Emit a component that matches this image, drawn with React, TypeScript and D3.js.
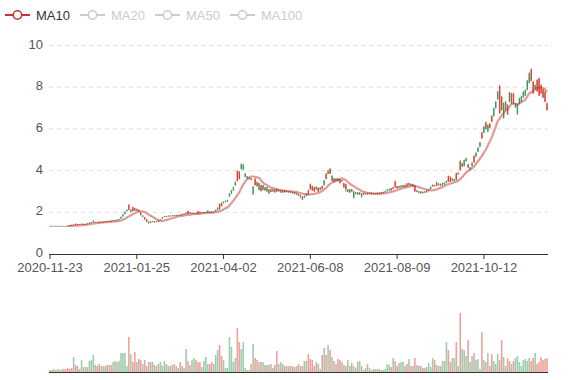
import React from 'react';
import * as d3 from 'd3';

const W = 577;
const H = 380;

// ---- data ----
const tickLabels = ['2020-11-23', '2021-01-25', '2021-04-02', '2021-06-08', '2021-08-09', '2021-10-12'];
const tickStep = 44;
const legendNames = ['MA10', 'MA20', 'MA50', 'MA100'];
const legendActive = [true, false, false, false];
const yTicks = [0, 2, 4, 6, 8, 10];

const opens = [
  1.34,1.35,1.34,1.35,1.34,1.35,1.34,1.34,1.345,1.35,
  1.38,1.40,1.39,1.44,1.43,1.41,1.42,1.44,1.43,1.46,
  1.46,1.49,1.52,1.53,1.54,1.55,1.53,1.54,1.56,1.57,
  1.56,1.60,1.59,1.60,1.64,1.64,1.70,1.80,1.92,2.05,
  2.35,2.03,2.24,2.20,2.08,2.12,2.00,1.78,1.76,1.66,
  1.48,1.56,1.53,1.57,1.55,1.62,1.63,1.70,1.78,1.82,
  1.80,1.84,1.82,1.86,1.84,1.84,1.88,1.92,1.90,1.92,
  2.06,2.00,1.93,1.92,1.96,2.05,2.02,1.96,1.95,1.97,
  1.98,2.02,2.03,2.00,2.05,2.12,2.40,2.45,2.44,2.50,
  2.52,2.75,2.90,3.05,3.30,3.98,3.95,4.08,4.06,3.70,
  3.62,3.60,3.62,2.88,3.60,3.45,3.08,3.30,3.08,3.20,
  3.00,2.92,3.10,3.00,3.08,3.12,3.00,2.95,3.05,3.04,
  2.98,3.02,2.94,2.98,2.96,2.85,2.88,2.72,2.75,2.70,
  2.80,3.05,3.35,3.25,3.20,3.10,3.18,3.08,3.25,3.30,
  3.85,3.85,4.08,3.50,3.62,3.50,3.62,3.58,3.48,3.40,
  3.35,2.98,2.95,3.10,2.70,2.88,2.95,2.85,2.75,2.92,
  2.87,2.92,2.88,2.93,2.88,2.87,2.93,2.88,2.95,2.92,
  2.96,3.02,3.06,3.15,3.12,3.48,3.25,3.18,3.20,3.22,
  3.30,3.38,3.30,3.36,3.25,3.30,2.98,3.00,2.92,2.98,
  2.95,3.05,3.04,3.12,3.25,3.30,3.44,3.30,3.36,3.30,
  3.34,3.42,3.74,3.70,3.52,3.50,3.87,3.82,4.46,4.19,
  4.22,4.45,4.30,4.03,4.22,4.70,4.68,4.90,5.15,5.82,
  5.82,6.31,5.88,6.25,6.62,6.62,7.00,7.42,8.06,7.54,
  6.52,6.92,7.15,7.74,7.22,7.70,7.02,6.70,7.20,7.30,
  7.50,7.60,7.87,8.20,8.86,8.26,7.90,8.35,8.43,8.10,
  7.90,7.78,7.23,
];

const closes = [
  1.35,1.34,1.35,1.34,1.345,1.34,1.35,1.335,1.335,1.34,
  1.35,1.38,1.42,1.39,1.41,1.43,1.45,1.42,1.44,1.43,
  1.50,1.53,1.60,1.50,1.51,1.52,1.55,1.55,1.53,1.54,
  1.58,1.56,1.62,1.63,1.60,1.68,1.78,1.90,2.02,2.12,
  2.12,2.12,2.06,2.08,2.16,2.05,1.87,1.85,1.66,1.55,
  1.55,1.50,1.58,1.52,1.57,1.55,1.66,1.76,1.82,1.78,
  1.84,1.80,1.85,1.82,1.88,1.87,1.84,1.86,1.93,1.98,
  1.92,1.95,1.98,1.96,1.92,1.93,1.95,2.00,1.99,2.02,
  2.08,1.97,1.98,2.04,2.12,2.22,2.15,2.30,2.50,2.55,
  2.58,2.90,3.05,3.20,3.45,3.50,3.60,4.30,4.28,3.85,
  3.72,3.68,3.55,3.23,3.30,3.25,3.40,3.02,3.30,3.05,
  3.20,3.10,2.98,3.10,2.96,3.00,3.08,3.05,2.95,2.96,
  3.04,2.96,3.00,2.92,2.88,2.92,2.80,2.82,2.62,2.78,
  2.90,2.85,3.10,3.05,3.00,3.22,3.00,3.18,3.12,3.52,
  3.60,4.00,3.85,3.75,3.45,3.62,3.50,3.40,3.55,3.20,
  3.10,3.10,3.10,3.00,3.00,2.95,2.86,2.95,2.90,2.85,
  2.92,2.86,2.92,2.87,2.92,2.91,2.87,2.93,2.88,2.97,
  3.02,3.08,3.12,3.05,3.20,3.20,3.15,3.25,3.28,3.30,
  3.22,3.25,3.40,3.28,3.35,3.00,3.05,2.94,3.00,2.92,
  3.00,2.96,3.10,3.22,3.32,3.25,3.28,3.38,3.28,3.40,
  3.42,3.50,3.47,3.47,3.62,3.58,3.55,3.90,4.03,4.35,
  4.50,4.59,4.15,4.15,4.38,4.40,4.85,5.10,5.35,5.55,
  6.10,6.00,6.19,6.05,6.35,6.99,7.30,7.78,6.75,6.90,
  7.23,7.30,6.70,7.30,7.70,7.20,7.22,7.20,7.47,7.55,
  7.78,7.87,8.31,8.67,8.30,7.70,8.10,7.80,7.60,7.70,
  7.50,7.30,6.90,
];

const lows = [
  1.33,1.34,1.34,1.34,1.33,1.34,1.34,1.33,1.33,1.34,
  1.34,1.37,1.38,1.38,1.40,1.40,1.41,1.41,1.42,1.42,
  1.45,1.48,1.51,1.49,1.50,1.51,1.52,1.53,1.52,1.53,
  1.55,1.55,1.58,1.59,1.59,1.63,1.69,1.79,1.91,2.04,
  2.10,2.01,2.04,2.06,2.06,2.03,1.85,1.76,1.64,1.53,
  1.44,1.49,1.52,1.51,1.54,1.54,1.62,1.69,1.77,1.77,
  1.79,1.79,1.81,1.81,1.83,1.83,1.83,1.85,1.89,1.91,
  1.91,1.94,1.92,1.91,1.91,1.92,1.94,1.95,1.94,1.96,
  1.97,1.96,1.97,1.99,2.04,2.11,2.14,2.28,2.43,2.49,
  2.51,2.74,2.88,3.03,3.28,3.48,3.58,4.05,4.04,3.68,
  3.60,3.58,3.53,2.83,3.28,3.23,3.05,3.00,3.06,3.03,
  2.98,2.85,2.96,2.98,2.94,2.98,2.98,2.93,2.93,2.94,
  2.96,2.94,2.92,2.90,2.86,2.83,2.78,2.70,2.58,2.68,
  2.78,2.83,3.08,3.03,2.98,3.08,2.98,3.06,3.10,3.28,
  3.58,3.83,3.83,3.48,3.43,3.48,3.48,3.38,3.46,3.18,
  2.98,2.96,2.93,2.98,2.65,2.86,2.84,2.83,2.70,2.83,
  2.85,2.84,2.86,2.85,2.86,2.85,2.85,2.86,2.86,2.90,
  2.94,3.00,3.04,3.03,3.10,3.18,3.13,3.16,3.18,3.20,
  3.20,3.23,3.28,3.26,3.23,2.98,2.96,2.92,2.88,2.90,
  2.93,2.94,3.02,3.10,3.23,3.23,3.26,3.28,3.26,3.28,
  3.32,3.40,3.45,3.45,3.50,3.48,3.53,3.80,4.00,4.17,
  4.20,4.43,4.13,4.01,4.20,4.38,4.66,4.88,5.13,5.53,
  5.80,5.98,5.85,6.03,6.33,6.60,6.98,7.40,6.72,6.88,
  6.48,6.90,6.68,7.28,7.20,7.18,7.00,6.68,7.18,7.28,
  7.48,7.58,7.85,8.18,8.28,7.68,7.88,7.78,7.58,7.68,
  7.48,7.28,6.88,
];

const highs = [
  1.35,1.35,1.35,1.35,1.35,1.35,1.35,1.34,1.35,1.35,
  1.39,1.41,1.43,1.47,1.44,1.44,1.46,1.45,1.45,1.47,
  1.51,1.54,1.62,1.54,1.55,1.56,1.56,1.56,1.57,1.58,
  1.59,1.61,1.63,1.64,1.65,1.69,1.80,1.92,2.04,2.14,
  2.40,2.14,2.26,2.22,2.18,2.14,2.02,1.86,1.78,1.68,
  1.56,1.57,1.59,1.58,1.58,1.63,1.67,1.77,1.83,1.83,
  1.85,1.85,1.86,1.87,1.89,1.88,1.89,1.93,1.94,1.99,
  2.08,2.01,1.99,1.97,1.97,2.07,2.03,2.01,2.00,2.03,
  2.10,2.03,2.04,2.05,2.13,2.24,2.43,2.47,2.52,2.57,
  2.60,2.93,3.08,3.23,3.48,4.02,3.98,4.35,4.32,3.88,
  3.74,3.70,3.64,3.25,3.65,3.47,3.42,3.32,3.32,3.22,
  3.22,3.12,3.12,3.12,3.10,3.14,3.10,3.07,3.07,3.06,
  3.06,3.04,3.02,3.00,2.98,2.94,2.90,2.84,2.77,2.80,
  2.92,3.08,3.38,3.27,3.22,3.24,3.20,3.20,3.27,3.55,
  3.88,4.03,4.12,3.78,3.64,3.64,3.64,3.60,3.57,3.42,
  3.37,3.12,3.12,3.12,3.02,2.97,2.97,2.97,2.92,2.94,
  2.94,2.94,2.94,2.95,2.94,2.93,2.95,2.95,2.97,2.99,
  3.04,3.10,3.14,3.17,3.22,3.52,3.27,3.27,3.30,3.32,
  3.32,3.40,3.42,3.38,3.37,3.32,3.07,3.02,3.02,3.00,
  3.02,3.07,3.12,3.24,3.34,3.32,3.46,3.40,3.38,3.42,
  3.44,3.52,3.76,3.72,3.64,3.60,3.90,3.92,4.50,4.38,
  4.53,4.62,4.33,4.18,4.40,4.73,4.88,5.13,5.38,5.86,
  6.14,6.35,6.22,6.28,6.66,7.03,7.34,7.82,8.10,7.58,
  7.27,7.33,7.18,7.77,7.73,7.73,7.25,7.23,7.50,7.58,
  7.81,7.90,8.35,8.72,8.90,8.30,8.13,8.38,8.46,8.13,
  7.93,7.81,7.26,
];

const volumes = [
  2,2,3,2,3,2,3,3,3,4,
  3,4,15,7,6,3,12,5,5,5,
  11,12,17,7,6,8,6,6,6,7,
  7,7,10,11,10,11,19,19,19,6,
  35,18,10,20,10,13,12,8,12,6,
  10,10,10,7,6,8,10,6,11,8,
  6,6,7,8,6,4,10,6,4,23,
  11,7,12,14,12,10,10,5,11,15,
  8,8,10,8,17,22,27,16,12,4,
  4,35,25,10,14,44,30,23,30,4,
  2,2,8,28,14,12,10,10,10,7,
  7,7,8,4,7,21,8,10,8,6,
  6,6,6,6,5,6,8,6,6,11,
  11,18,13,12,6,10,8,3,17,24,
  17,27,22,15,11,8,13,12,10,7,
  6,12,6,9,6,4,10,11,6,2,
  4,8,4,2,3,3,3,3,2,2,
  3,8,7,5,14,11,6,9,10,10,
  6,8,13,6,6,14,7,6,6,4,
  4,5,9,5,14,12,7,6,6,11,
  11,30,22,10,14,14,30,6,59,23,
  22,16,32,10,16,19,12,13,3,40,
  12,10,19,6,18,11,8,18,12,32,
  15,6,14,11,8,11,14,16,10,6,
  12,13,11,14,11,14,19,8,10,15,
  12,13,14,
];

// ---- styles ----
const UP = '#3d9960';
const DOWN = '#dd4433';
const MA_COLOR = '#c23531';
const FONT = '"Liberation Sans", Arial, sans-serif';

const LEFT = 49;
const RIGHT = 548;
const P_TOP = 45.5;
const P_BOTTOM = 254;
const V_TOP = 313;
const V_BOTTOM = 372;

export default function App() {
  const n = closes.length;
  const idx = d3.range(n);
  const x = d3.scaleBand<number>().domain(idx).range([LEFT, RIGHT]).padding(0);
  const bw = x.bandwidth();
  const cx = (i: number) => (x(i) as number) + bw / 2;
  const y = d3.scaleLinear().domain([0, 10]).range([P_BOTTOM, P_TOP]);
  const yv = d3.scaleLinear().domain([0, d3.max(volumes) as number]).range([V_BOTTOM, V_TOP]);

  const ma: [number, number][] = [];
  for (let i = 9; i < n; i++) {
    const s = d3.sum(closes.slice(i - 9, i + 1));
    ma.push([cx(i), y(s / 10)]);
  }
  const maPath = d3.line().curve(d3.curveMonotoneX)(ma) || '';

  const bodyW = bw * 0.7;
  const volW = bw * 0.8;

  const legendX = [5, 80, 155, 230];

  return (
    <svg width={W} height={H} style={{ position: 'absolute', left: 0, top: 0, background: '#fff' }} fontFamily={FONT}>
      <rect x={0} y={0} width={W} height={H} fill="#fff" />
      {/* legend */}
      {legendNames.map((name, k) => {
        const c = legendActive[k] ? MA_COLOR : '#ccc';
        const lx = legendX[k];
        return (
          <g key={name}>
            <line x1={lx} x2={lx + 25} y1={15} y2={15} stroke={c} strokeWidth={2} />
            <circle cx={lx + 12.5} cy={15} r={4.2} fill="#fff" stroke={c} strokeWidth={1.5} />
            <text x={lx + 31} y={15} dominantBaseline="central" fontSize={13} fill={legendActive[k] ? '#333' : '#ccc'}>
              {name}
            </text>
          </g>
        );
      })}

      {/* grid + y labels */}
      {yTicks.map((t) => (
        <g key={t}>
          {t > 0 && (
            <line x1={LEFT} x2={RIGHT} y1={y(t)} y2={y(t)} stroke="#e0e0e0" strokeDasharray="4 4" />
          )}
          <text x={43} y={y(t) - 1.5} textAnchor="end" dominantBaseline="central" fontSize={13} fill="#555">
            {t}
          </text>
        </g>
      ))}

      {/* volume bars */}
      {idx.map((i) => (
        <rect
          key={'v' + i}
          x={cx(i) - volW / 2}
          y={yv(volumes[i])}
          width={volW}
          height={V_BOTTOM - yv(volumes[i])}
          fill={closes[i] >= opens[i] ? UP : DOWN}
          fillOpacity={0.5}
        />
      ))}

      {/* candles */}
      {idx.map((i) => {
        const col = closes[i] >= opens[i] ? UP : DOWN;
        const top = y(Math.max(opens[i], closes[i]));
        const bot = y(Math.min(opens[i], closes[i]));
        return (
          <g key={'c' + i}>
            <line x1={cx(i)} x2={cx(i)} y1={y(highs[i])} y2={y(lows[i])} stroke={col} strokeWidth={0.8} />
            <rect x={cx(i) - bodyW / 2} y={top} width={bodyW} height={Math.max(0.8, bot - top)} fill={col} />
          </g>
        );
      })}

      {/* MA10 */}
      <path d={maPath} fill="none" stroke={MA_COLOR} strokeOpacity={0.5} strokeWidth={2.2} />

      {/* main x axis */}
      <line x1={LEFT} x2={RIGHT} y1={P_BOTTOM + 0.5} y2={P_BOTTOM + 0.5} stroke="#333" />
      {tickLabels.map((lab, k) => {
        const tx = cx(k * tickStep);
        return (
          <g key={lab}>
            <line x1={tx} x2={tx} y1={P_BOTTOM} y2={P_BOTTOM + 5} stroke="#333" />
            <text x={tx} y={272} textAnchor="middle" fontSize={13} fill="#555">
              {lab}
            </text>
          </g>
        );
      })}

      {/* volume x axis */}
      <line x1={LEFT} x2={RIGHT} y1={V_BOTTOM + 0.5} y2={V_BOTTOM + 0.5} stroke="#333" />
    </svg>
  );
}
